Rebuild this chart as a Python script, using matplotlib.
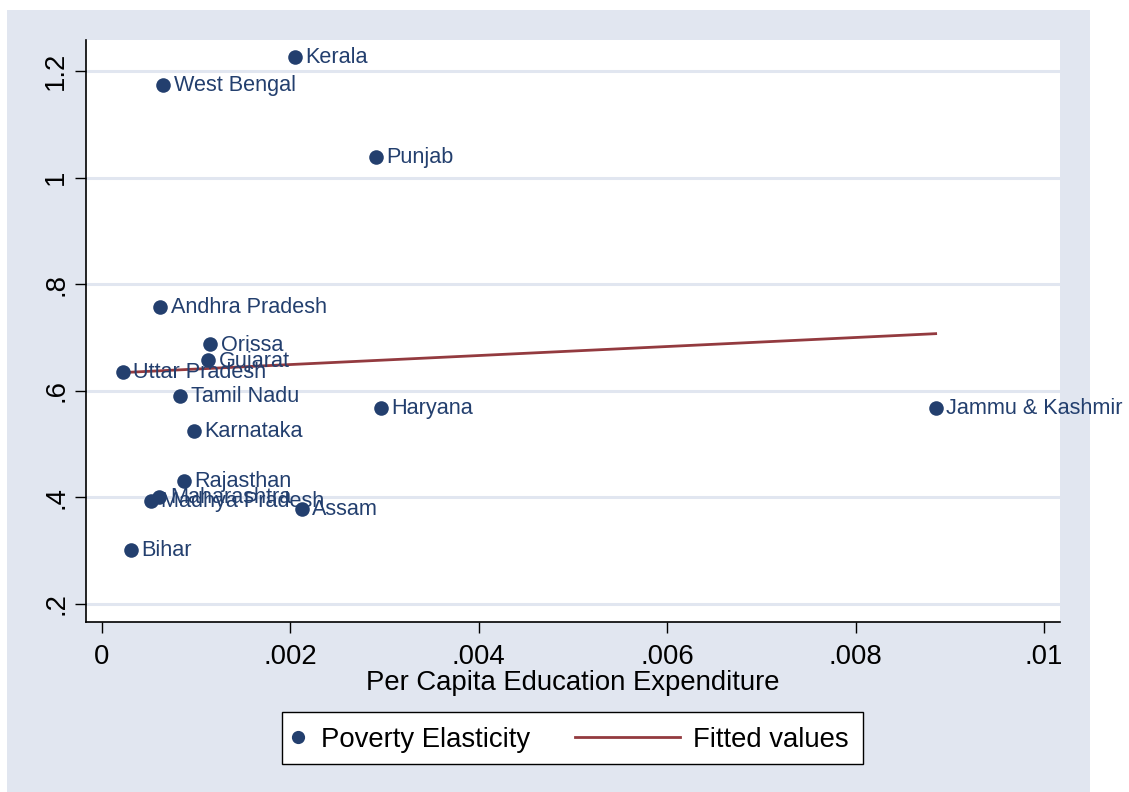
import matplotlib.pyplot as plt
from matplotlib.patches import Rectangle
from matplotlib.lines import Line2D

plt.rcParams['font.family'] = ['Liberation Sans', 'DejaVu Sans']

# state-level data
states = ['Kerala', 'West Bengal', 'Punjab', 'Andhra Pradesh', 'Orissa', 'Gujarat',
          'Uttar Pradesh', 'Tamil Nadu', 'Haryana', 'Jammu & Kashmir', 'Karnataka',
          'Rajasthan', 'Maharashtra', 'Madhya Pradesh', 'Assam', 'Bihar']
educ_exp = [0.00205, 0.00065, 0.00291, 0.00062, 0.00115, 0.00113,
            0.00022, 0.00083, 0.00296, 0.00885, 0.00098,
            0.00087, 0.00061, 0.00052, 0.00212, 0.00031]
pov_elast = [1.226, 1.173, 1.038, 0.757, 0.687, 0.657,
             0.636, 0.590, 0.567, 0.567, 0.525,
             0.430, 0.401, 0.393, 0.378, 0.302]

# fitted values at the ends of the x range
fit_x = [0.00022, 0.00885]
fit_y = [0.634, 0.707]

xticks = [0, 0.002, 0.004, 0.006, 0.008, 0.01]
xlabels = ['0', '.002', '.004', '.006', '.008', '.01']
yticks = [0.2, 0.4, 0.6, 0.8, 1.0, 1.2]
ylabels = ['.2', '.4', '.6', '.8', '1', '1.2']

navy = '#233f6e'
maroon = '#933a3f'
bg = '#e1e6f0'
fs = 19.8

W, H = 1129, 792
fig = plt.figure(figsize=(W / 100, H / 100), dpi=100, facecolor='white')
fig.patches.append(Rectangle((7 / W, 0), (1090 - 7) / W, (792 - 10) / H,
                             transform=fig.transFigure, facecolor=bg,
                             edgecolor='none', zorder=-10))

ax = fig.add_axes([86 / W, (H - 622) / H, (1060 - 86) / W, (622 - 40) / H])
ax.set_facecolor('white')

ax.scatter(educ_exp, pov_elast, s=110, color=navy, zorder=3, linewidths=0)
for name, x, y in zip(states, educ_exp, pov_elast):
    ax.annotate(name, (x, y), xytext=(7.5, -0.5), textcoords='offset points',
                va='center', ha='left', fontsize=15.6, color=navy,
                annotation_clip=False, zorder=4)
ax.plot(fit_x, fit_y, color=maroon, lw=2, zorder=2)

ax.set_xlim(-0.00017, 0.01017)
ax.set_ylim(0.166, 1.258)
ax.set_xticks(xticks)
ax.set_xticklabels(xlabels)
ax.set_yticks(yticks)
ax.set_yticklabels(ylabels, rotation=90, va='center')
ax.tick_params(axis='both', labelsize=fs, length=8, width=1, color='black')
ax.tick_params(axis='y', pad=4)
ax.tick_params(axis='x', pad=8)
ax.grid(axis='y', color=bg, lw=2.2)
ax.set_axisbelow(True)
for side in ['top', 'right']:
    ax.spines[side].set_visible(False)
for side in ['left', 'bottom']:
    ax.spines[side].set_linewidth(1.2)
ax.set_xlabel('Per Capita Education Expenditure', fontsize=fs, labelpad=0)

# legend: one framed box holding two keys
fig.patches.append(Rectangle((282 / W, (H - 764) / H), 581 / W, 52 / H,
                             transform=fig.transFigure, facecolor='white',
                             edgecolor='black', lw=1, zorder=1))
ycen = (H - 740) / H
h1 = Line2D([], [], ls='none', marker='o', ms=9.5, color=navy, mec='none')
h2 = Line2D([], [], color=maroon, lw=2)
leg1 = fig.legend([h1], ['Poverty Elasticity'], loc='center left',
                  bbox_to_anchor=(284 / W, ycen), fontsize=fs, frameon=False,
                  handlelength=1.0, handletextpad=0.35, borderpad=0,
                  borderaxespad=0)
leg2 = fig.legend([h2], ['Fitted values'], loc='center left',
                  bbox_to_anchor=(575 / W, ycen), fontsize=fs, frameon=False,
                  handlelength=3.8, handletextpad=0.5, borderpad=0,
                  borderaxespad=0)

fig.savefig('out.png', dpi=100, facecolor='white')
